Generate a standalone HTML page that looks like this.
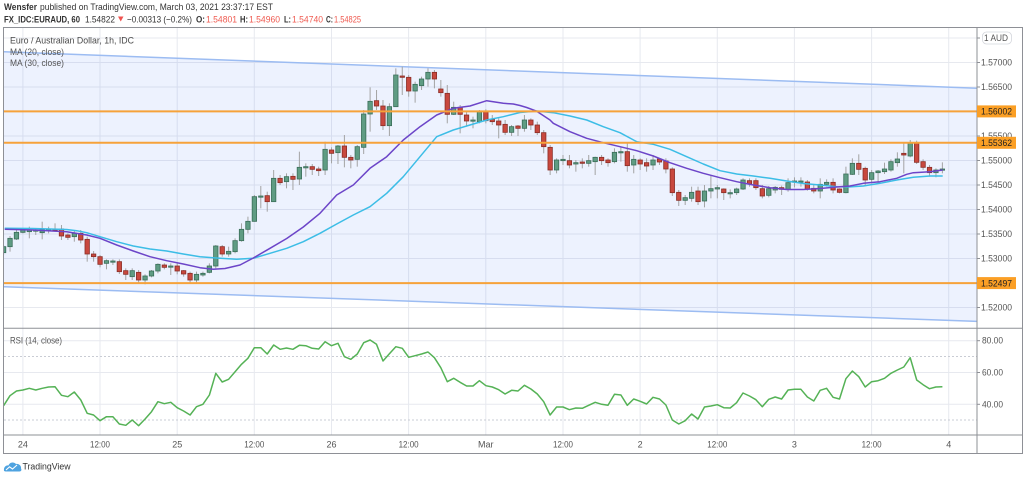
<!DOCTYPE html>
<html><head><meta charset="utf-8"><style>
html,body{margin:0;padding:0;background:#fff;width:1024px;height:478px;overflow:hidden}
svg{display:block}
</style></head><body>
<svg width="1024" height="478" viewBox="0 0 1024 478" font-family="'Liberation Sans', sans-serif">
<defs>
<clipPath id="mainclip"><rect x="4" y="27.5" width="973" height="300.5"/></clipPath>
<clipPath id="rsiclip"><rect x="4" y="328.5" width="973" height="106"/></clipPath>
</defs>
<rect x="0" y="0" width="1024" height="478" fill="#fff"/>
<!-- header -->
<text x="4" y="10" font-size="9.5" font-weight="bold" fill="#333" textLength="33" lengthAdjust="spacingAndGlyphs">Wensfer</text>
<text x="40" y="10" font-size="9.5" fill="#333" textLength="233" lengthAdjust="spacingAndGlyphs">published on TradingView.com, March 03, 2021 23:37:17 EST</text>
<text x="4" y="22.5" font-size="9.5" font-weight="bold" fill="#333" textLength="76" lengthAdjust="spacingAndGlyphs">FX_IDC:EURAUD, 60</text>
<text x="85" y="22.5" font-size="9.5" fill="#333" textLength="30" lengthAdjust="spacingAndGlyphs">1.54822</text>
<polygon points="118,16.5 123.5,16.5 120.75,21.5" fill="#ef5350"/>
<text x="127" y="22.5" font-size="9.5" fill="#333" textLength="65" lengthAdjust="spacingAndGlyphs">−0.00313 (−0.2%)</text>
<text x="196" y="22.5" font-size="9.5" font-weight="bold" fill="#333" textLength="9" lengthAdjust="spacingAndGlyphs">O:</text>
<text x="206" y="22.5" font-size="9.5" fill="#ef5a50" textLength="31" lengthAdjust="spacingAndGlyphs">1.54801</text>
<text x="240" y="22.5" font-size="9.5" font-weight="bold" fill="#333" textLength="8" lengthAdjust="spacingAndGlyphs">H:</text>
<text x="249" y="22.5" font-size="9.5" fill="#ef5a50" textLength="31" lengthAdjust="spacingAndGlyphs">1.54960</text>
<text x="284" y="22.5" font-size="9.5" font-weight="bold" fill="#333" textLength="7" lengthAdjust="spacingAndGlyphs">L:</text>
<text x="292" y="22.5" font-size="9.5" fill="#ef5a50" textLength="31" lengthAdjust="spacingAndGlyphs">1.54740</text>
<text x="326" y="22.5" font-size="9.5" font-weight="bold" fill="#333" textLength="7" lengthAdjust="spacingAndGlyphs">C:</text>
<text x="334" y="22.5" font-size="9.5" fill="#ef5a50" textLength="27" lengthAdjust="spacingAndGlyphs">1.54825</text>

<!-- grid -->
<g stroke="#e7e9ef" stroke-width="1">
<line x1="4" x2="977" y1="38" y2="38"/>
<line x1="4" x2="977" y1="62.5" y2="62.5"/>
<line x1="4" x2="977" y1="87" y2="87"/>
<line x1="4" x2="977" y1="111.5" y2="111.5"/>
<line x1="4" x2="977" y1="136" y2="136"/>
<line x1="4" x2="977" y1="160.5" y2="160.5"/>
<line x1="4" x2="977" y1="185" y2="185"/>
<line x1="4" x2="977" y1="209.5" y2="209.5"/>
<line x1="4" x2="977" y1="234" y2="234"/>
<line x1="4" x2="977" y1="258.5" y2="258.5"/>
<line x1="4" x2="977" y1="283" y2="283"/>
<line x1="4" x2="977" y1="307.5" y2="307.5"/>
<line x1="4" x2="977" y1="340.7" y2="340.7"/>
<line x1="4" x2="977" y1="372.5" y2="372.5"/>
<line x1="4" x2="977" y1="404.3" y2="404.3"/>
<line x1="22.9" x2="22.9" y1="27" y2="435"/>
<line x1="100" x2="100" y1="27" y2="435"/>
<line x1="177.2" x2="177.2" y1="27" y2="435"/>
<line x1="254.3" x2="254.3" y1="27" y2="435"/>
<line x1="331.5" x2="331.5" y1="27" y2="435"/>
<line x1="408.6" x2="408.6" y1="27" y2="435"/>
<line x1="485.8" x2="485.8" y1="27" y2="435"/>
<line x1="563" x2="563" y1="27" y2="435"/>
<line x1="640.1" x2="640.1" y1="27" y2="435"/>
<line x1="717.3" x2="717.3" y1="27" y2="435"/>
<line x1="794.4" x2="794.4" y1="27" y2="435"/>
<line x1="871.6" x2="871.6" y1="27" y2="435"/>
<line x1="948.7" x2="948.7" y1="27" y2="435"/>
</g>
<g stroke="#c9ccd4" stroke-width="1" stroke-dasharray="2,2">
<line x1="4" x2="977" y1="356.5" y2="356.5"/>
<line x1="4" x2="977" y1="420" y2="420"/>
</g>

<!-- channel -->
<g clip-path="url(#mainclip)">
<polygon points="4,51.7 977,88.2 977,321.4 4,286.7" fill="#2a6ef0" fill-opacity="0.085"/>
<line x1="4" y1="51.7" x2="977" y2="88.2" stroke="#9cbcf2" stroke-width="1.5"/>
<line x1="4" y1="286.7" x2="977" y2="321.4" stroke="#9cbcf2" stroke-width="1.5"/>
<g id="candles"></g>
<polyline fill="none" stroke="#3cbde6" stroke-width="1.5" stroke-linejoin="round" points="4.7,228.3 33,228.5 66.7,229.5 76.7,230.7 86.7,232.7 100,236.7 116.7,241.7 133.3,246 150,249 166.7,251 183.3,254 200,256.7 220,258.3 236.7,259.3 253.3,258.3 270,253.3 286.7,248.3 303.3,241.7 320,233.3 336.7,224 353.3,215 370,206.7 386.7,193.3 403.3,176.7 420,156.7 436.7,136.7 453.3,130 470,125 486.7,120 503.3,116.7 520,112.5 536.7,111 553.3,112.7 570,116 586.7,120 603.3,126.7 620,132.7 636.7,141.7 653.3,144.3 670,149.3 686.7,156.7 703.3,164 720,170.7 736.7,174 753.3,176 770,178.3 786.7,181 803.3,183.5 820,185 836.7,186.7 850,186.9 863.3,186 880,183.3 896.7,180 913.3,177.3 930,176 942.7,176"/>
<polyline fill="none" stroke="#6c45c8" stroke-width="1.5" stroke-linejoin="round" points="4.7,229.3 33.3,230 66.7,231.7 86.7,235 100,238.3 116.7,245 133.3,251 150,256.7 166.7,260.7 183.3,264 200,267.7 213.3,269.3 225,268.5 240,265 253.3,258 270,248.3 286.7,238.5 303.3,227 320,213.3 336.7,195 353.3,185 370,168.3 386.7,156.7 403.3,140 420,126.7 436.7,115 453.3,108.3 470,106 486.7,100.7 503.3,103.3 513.3,104 520,105.5 526.7,107.5 536.7,111.2 550,120 553.3,123.3 570,131.7 586.7,138.3 603.3,142.7 620,146.7 636.7,150.7 653.3,156 670,162.7 686.7,168.3 703.3,173.3 720,177.7 736.7,181.7 753.3,185 770,187.7 786.7,189.5 803.3,189.5 820,188.5 836.7,187 850,186 863.3,183.3 880,181.7 896.7,178.3 906.7,174.3 913.3,172.7 930,171.7 942.7,170"/>
<line x1="4" x2="977" y1="111.4" y2="111.4" stroke="#f6a23a" stroke-width="2"/>
<line x1="4" x2="977" y1="142.8" y2="142.8" stroke="#f6a23a" stroke-width="2"/>
<line x1="4" x2="977" y1="283.1" y2="283.1" stroke="#f6a23a" stroke-width="2"/>
</g>

<!-- legend -->
<text x="10" y="43.5" font-size="9.5" fill="#4a4a4a" textLength="124" lengthAdjust="spacingAndGlyphs">Euro / Australian Dollar, 1h, IDC</text>
<text x="10" y="54.8" font-size="9.5" fill="#555" textLength="54" lengthAdjust="spacingAndGlyphs">MA (20, close)</text>
<text x="10" y="66" font-size="9.5" fill="#555" textLength="54" lengthAdjust="spacingAndGlyphs">MA (30, close)</text>

<!-- RSI -->
<g clip-path="url(#rsiclip)">
<polyline id="rsi" fill="none" stroke="#55b256" stroke-width="1.5" stroke-linejoin="round" points=""/>
</g>
<text x="10" y="343.5" font-size="9" fill="#555" textLength="52" lengthAdjust="spacingAndGlyphs">RSI (14, close)</text>

<!-- frame / separators -->
<g stroke="#8e9096" stroke-width="1" fill="none">
<rect x="3.5" y="27.5" width="1019" height="426"/>
<line x1="977" x2="977" y1="27.5" y2="453.5"/>
<line x1="3.5" x2="1022.5" y1="328.3" y2="328.3"/>
<line x1="3.5" x2="1022.5" y1="435" y2="435"/>
</g>

<!-- price axis -->
<g stroke="#8e9096" stroke-width="1">
<line x1="977" x2="980" y1="38" y2="38"/>
<line x1="977" x2="980" y1="62.5" y2="62.5"/>
<line x1="977" x2="980" y1="87" y2="87"/>
<line x1="977" x2="980" y1="136" y2="136"/>
<line x1="977" x2="980" y1="160.5" y2="160.5"/>
<line x1="977" x2="980" y1="185" y2="185"/>
<line x1="977" x2="980" y1="209.5" y2="209.5"/>
<line x1="977" x2="980" y1="234" y2="234"/>
<line x1="977" x2="980" y1="258.5" y2="258.5"/>
<line x1="977" x2="980" y1="307.5" y2="307.5"/>
<line x1="977" x2="980" y1="340.7" y2="340.7"/>
<line x1="977" x2="980" y1="372.5" y2="372.5"/>
<line x1="977" x2="980" y1="404.3" y2="404.3"/>
</g>
<rect x="982.5" y="32" width="29" height="12" rx="4" fill="#fff" stroke="#d4d6dc" stroke-width="0.8"/>
<g font-size="9" fill="#555">
<text x="984" y="41" textLength="24" lengthAdjust="spacingAndGlyphs">1 AUD</text>
<text x="981" y="65.5" textLength="31" lengthAdjust="spacingAndGlyphs">1.57000</text>
<text x="981" y="90" textLength="31" lengthAdjust="spacingAndGlyphs">1.56500</text>
<text x="981" y="139" textLength="31" lengthAdjust="spacingAndGlyphs">1.55500</text>
<text x="981" y="163.5" textLength="31" lengthAdjust="spacingAndGlyphs">1.55000</text>
<text x="981" y="188" textLength="31" lengthAdjust="spacingAndGlyphs">1.54500</text>
<text x="981" y="212.5" textLength="31" lengthAdjust="spacingAndGlyphs">1.54000</text>
<text x="981" y="237" textLength="31" lengthAdjust="spacingAndGlyphs">1.53500</text>
<text x="981" y="261.5" textLength="31" lengthAdjust="spacingAndGlyphs">1.53000</text>
<text x="981" y="310.5" textLength="31" lengthAdjust="spacingAndGlyphs">1.52000</text>
<text x="982" y="343.7" textLength="21" lengthAdjust="spacingAndGlyphs">80.00</text>
<text x="982" y="375.5" textLength="21" lengthAdjust="spacingAndGlyphs">60.00</text>
<text x="982" y="407.3" textLength="21" lengthAdjust="spacingAndGlyphs">40.00</text>
</g>
<g>
<rect x="977" y="105.4" width="39" height="12" fill="#fb9f25"/>
<rect x="977" y="136.8" width="39" height="12" fill="#fb9f25"/>
<rect x="977" y="277.1" width="39" height="12" fill="#fb9f25"/>
</g>
<g font-size="9" fill="#222">
<text x="981" y="114.6" textLength="31" lengthAdjust="spacingAndGlyphs">1.56002</text>
<text x="981" y="146" textLength="31" lengthAdjust="spacingAndGlyphs">1.55362</text>
<text x="981" y="286.3" textLength="31" lengthAdjust="spacingAndGlyphs">1.52497</text>
</g>

<!-- time axis -->
<g font-size="9" fill="#555" text-anchor="middle">
<text x="22.9" y="447.5">24</text>
<text x="100" y="447.5" textLength="20" lengthAdjust="spacingAndGlyphs">12:00</text>
<text x="177.2" y="447.5">25</text>
<text x="254.3" y="447.5" textLength="20" lengthAdjust="spacingAndGlyphs">12:00</text>
<text x="331.5" y="447.5">26</text>
<text x="408.6" y="447.5" textLength="20" lengthAdjust="spacingAndGlyphs">12:00</text>
<text x="485.8" y="447.5">Mar</text>
<text x="563" y="447.5" textLength="20" lengthAdjust="spacingAndGlyphs">12:00</text>
<text x="640.1" y="447.5">2</text>
<text x="717.3" y="447.5" textLength="20" lengthAdjust="spacingAndGlyphs">12:00</text>
<text x="794.4" y="447.5">3</text>
<text x="871.6" y="447.5" textLength="20" lengthAdjust="spacingAndGlyphs">12:00</text>
<text x="948.7" y="447.5">4</text>
</g>

<!-- TradingView logo -->
<g>
<path d="M4,471 C3.5,467 6,465 8.5,465.5 C9.5,462 14,461.5 16,464 C19,463.5 21.5,466 21,468.5 C22,470 21,471.5 19.5,471.5 L5.5,471.5 Z" fill="#4fa3e0"/>
<polyline points="6,470 9.5,466.8 12.5,469 17,465" fill="none" stroke="#fff" stroke-width="1.1"/>
<text x="22.5" y="469.5" font-size="9.5" fill="#333" textLength="48" lengthAdjust="spacingAndGlyphs">TradingView</text>
</g>
</svg>
<script>
(function(){
var S4=[[1,200,218,195,225],[1,175,200,168,215],[1,157,177,150,180],[1,150,157,145,160],[1,150,155,140,175],[1,150,153,145,165],[1,148,158,125,178],[1,148,150,140,160],[0,147,149,130,155],[0,147,168,135,180],[0,165,172,160,180],[1,160,170,150,185],[0,160,180,150,190],[0,178,222,170,245],[0,222,230,213,245],[0,230,253,225,262],[1,242,250,238,268],[1,243,245,238,255],[0,245,275,238,282],[0,272,283,265,300],[1,272,290,265,300],[0,277,300,270,310],[1,288,300,283,313],[1,273,288,270,292],[1,253,273,250,280],[0,255,262,250,268],[1,258,260,250,285],[0,258,273,250,283],[0,272,282,270,290],[0,280,300,275,312],[1,283,300,275,312],[1,280,285,275,290],[1,258,277,250,280],[1,198,258,195,265]];
var S5=[[0,560,582,555,590],[1,574,582,560,590],[1,542,575,535,580],[1,508,542,490,545],[1,484,508,470,520],[1,410,484,405,485],[1,408,410,378,445],[0,407,425,395,455],[1,355,425,330,425],[0,355,368,345,375],[1,350,365,340,385],[0,349,358,340,390],[1,322,357,275,375],[1,320,323,310,350],[0,320,328,312,345],[0,327,332,320,348],[1,268,330,245,345],[0,270,280,262,310],[1,258,278,255,312],[0,258,292,225,322],[0,292,300,285,325],[1,260,298,255,320],[1,162,262,150,282],[1,124,162,82,215],[0,122,138,90,150],[0,138,197,120,210],[1,140,197,130,228],[1,45,140,25,140],[0,48,52,20,105],[0,52,93,45,110],[1,73,93,65,128],[1,57,77,50,90],[1,37,57,25,80],[0,37,57,30,85],[0,87,98,60,110],[0,100,163,75,190],[1,142,163,125,165],[0,142,163,135,220],[0,165,183,155,200],[1,180,182,170,205],[1,155,185,150,190],[0,155,182,148,190],[0,178,185,165,195],[0,183,195,175,235],[0,193,217,180,225],[1,200,217,195,228],[0,198,205,195,228],[1,180,205,165,215],[0,180,195,175,210],[0,195,218,185,225],[0,218,260,210,280]];
var S6=[[0,172,240,165,255],[1,210,240,205,250],[1,208,212,195,225],[0,212,225,195,235],[1,218,222,210,245],[0,216,220,205,235],[1,212,220,195,230],[1,202,215,200,255],[0,202,212,195,225],[0,210,218,205,230],[1,187,215,175,220],[1,185,187,170,215],[0,185,227,160,245],[1,208,225,195,250],[0,210,222,205,240],[0,218,228,205,245],[1,210,225,195,240],[0,207,216,205,225],[0,213,237,205,250],[0,237,308,232,318],[0,307,331,300,348],[1,323,331,315,345],[1,307,325,290,335],[0,303,335,290,345],[1,303,333,285,352],[1,296,303,255,325],[1,293,297,285,325],[0,297,308,295,330],[1,308,310,298,325],[1,297,308,293,315],[1,270,297,265,300],[0,272,282,265,290],[0,272,293,265,300],[0,296,318,285,325],[1,296,316,288,322],[1,292,300,288,310],[0,293,298,287,315],[1,278,298,265,305],[1,273,276,262,292],[1,273,275,262,290],[0,276,297,270,302],[0,295,303,283,310],[1,283,303,265,325],[1,277,283,268,290],[0,277,300,265,310],[0,297,307,295,310]];
var S7=[[1,162,218,140,220],[1,130,163,115,165],[0,130,148,103,165],[0,145,180,140,195],[1,158,178,150,190],[1,153,158,150,190],[1,147,155,128,162],[1,125,150,118,155],[1,117,128,97,140],[0,100,105,70,160],[1,68,108,60,112],[0,68,127,62,132],[0,125,142,118,150],[0,142,158,135,170],[1,150,158,145,172],[1,147,150,127,160]];
var segs=[[180,S4],[60,S5],[90,S6],[120,S7]];
var ns="http://www.w3.org/2000/svg";
var g=document.getElementById("candles");
var i=0;
function el(n,a){var e=document.createElementNS(ns,n);for(var k in a)e.setAttribute(k,a[k]);return e;}
for(var s=0;s<segs.length;s++){var off=segs[s][0],arr=segs[s][1];
 for(var j=0;j<arr.length;j++){var c=arr[j];var x=3.6+6.43*i;
  var bt=off+c[1]/3,bb=off+c[2]/3,wt=off+c[3]/3,wb=off+c[4]/3;
  g.appendChild(el("line",{x1:x,x2:x,y1:Math.min(wt,bt),y2:Math.max(wb,bb),stroke:"#a3a3a3","stroke-width":1}));
  var h=Math.max(bb-bt,1.2);
  g.appendChild(el("rect",{x:x-2.2,y:bt,width:4.4,height:h,fill:c[0]?"#5f9c83":"#c8483e",stroke:c[0]?"#3a6e59":"#8a2d26","stroke-width":0.8}));
  i++;}}
var R=[242,212,198,195,190,195,190,186,185,211,215,201,225,265,270,287,275,275,297,301,285,302,282,260,230,236,232,248,258,270,245,238,210,145,171,163,140,118,100,68,68,87,60,73,69,73,61,62,70,72,50,62,55,95,103,87,53,45,58,108,86,65,70,97,92,87,81,98,128,170,160,172,183,183,167,182,186,194,207,196,198,181,192,207,230,270,246,246,254,249,250,241,232,238,241,208,210,241,222,229,237,217,222,240,285,297,287,267,282,246,243,239,248,249,233,204,213,224,245,223,216,222,195,193,193,216,228,196,190,217,222,161,138,155,186,170,167,160,145,135,126,98,165,179,191,186,185];
var p=[];for(var k=0;k<R.length;k++){p.push((3.6+6.43*k).toFixed(1)+","+(325+R[k]/3).toFixed(1));}
document.getElementById("rsi").setAttribute("points",p.join(" "));
})();
</script>
</body></html>
